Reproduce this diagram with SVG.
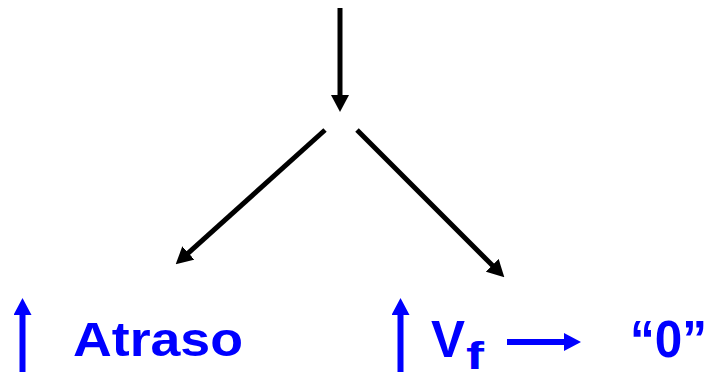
<svg xmlns="http://www.w3.org/2000/svg" width="715" height="376" viewBox="0 0 715 376">
<defs>
<marker id="ah" viewBox="0 0 17 18" refX="1" refY="9" markerWidth="17" markerHeight="18" markerUnits="userSpaceOnUse" orient="auto">
<path d="M0,0 L17,9 L0,18 z" fill="#000"/>
</marker>
<marker id="bh" viewBox="0 0 17 18" refX="1" refY="9" markerWidth="17" markerHeight="18" markerUnits="userSpaceOnUse" orient="auto">
<path d="M0,0 L17,9 L0,18 z" fill="#0000ff"/>
</marker>
</defs>
<style>
.k{stroke:#000;stroke-width:5;fill:none;marker-end:url(#ah)}
.b{stroke:#0000ff;stroke-width:6;fill:none;marker-end:url(#bh)}
.t{font-family:"Comic Sans MS","Liberation Sans",sans-serif;font-weight:bold;fill:#0000ff}
</style>
<rect width="715" height="376" fill="#fff"/>
<g id="connectors">
<line class="k" x1="340" y1="8" x2="340" y2="96"/>
<line class="k" x1="325" y1="130" x2="187.6" y2="253.6"/>
<line class="k" x1="357" y1="130" x2="493" y2="266"/>
</g>
<g id="atraso">
<line class="b" x1="22.5" y1="372" x2="22.5" y2="314"/>
<text class="t" x="73" y="356" font-size="49" textLength="170" lengthAdjust="spacingAndGlyphs">Atraso</text>
</g>
<g id="vf">
<line class="b" x1="400.5" y1="372" x2="400.5" y2="314"/>
<text class="t" x="431" y="357" font-size="52" textLength="34" lengthAdjust="spacingAndGlyphs">V</text>
<text class="t" x="466" y="369" font-size="38" textLength="18" lengthAdjust="spacingAndGlyphs">f</text>
<line class="b" x1="507" y1="342" x2="565" y2="342"/>
</g>
<g id="zero">
<text class="t" x="630" y="357" font-size="52" textLength="77" lengthAdjust="spacingAndGlyphs">“0”</text>
</g>
</svg>
